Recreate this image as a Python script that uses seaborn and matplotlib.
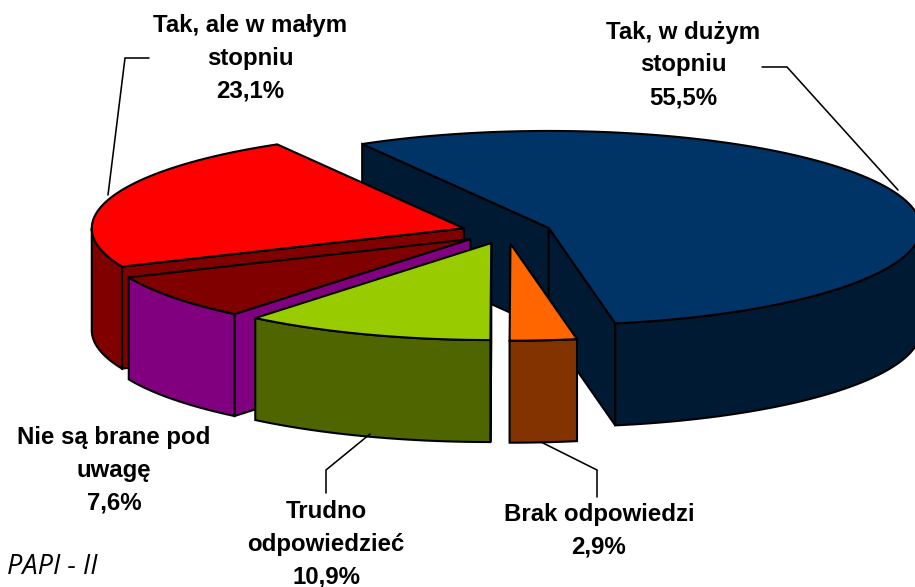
import numpy as np
import matplotlib
matplotlib.use("Agg")
import matplotlib.pyplot as plt
import seaborn as sns

# slices, clockwise from the blue one
labels = ["Tak, w dużym\nstopniu", "Brak odpowiedzi", "Trudno\nodpowiedzieć",
          "Nie są brane pod\nuwagę", "Tak, ale w małym\nstopniu"]
values = [55.5, 2.9, 10.9, 7.6, 23.1]

top_colors = ["#003366", "#ff6600", "#99cc00", "#800000", "#ff0000"]
side_colors = ["#001a33", "#833300", "#4f6600", "#800080", "#800000"]

label_pos = [(683, 65), (599, 531), (326, 544), (114, 470), (250, 58)]
leaders = [
    [(762, 67), (787, 67), (898, 190)],
    [(597, 497), (597, 470), (541, 442)],
    [(326, 493), (326, 470), (370, 434)],
    None,
    [(149, 58), (125, 58), (108, 195)],
]

# pie geometry in pixels
cx, cy = 506.5, 232
rx, ry = 372, 97
depth = 102
explode = 0.121
start_angle = -30.1
draw_order = [0, 4, 3, 2, 1]

sns.set_theme(style="white")
plt.rcParams["font.family"] = ["Liberation Sans", "DejaVu Sans"]

fig = plt.figure(figsize=(9.15, 5.87), dpi=100)
ax = fig.add_axes([0, 0, 1, 1])
ax.set_xlim(0, 915)
ax.set_ylim(587, 0)
ax.axis("off")

edges = start_angle + np.cumsum([0] + values) * 3.6


def rim(vx, vy, deg):
    t = np.radians(deg)
    return vx + rx * np.sin(t), vy - ry * np.cos(t)


def face(xs, ys, color):
    ax.fill(xs, ys, facecolor=color, edgecolor="black", linewidth=1.5, joinstyle="miter")


def radial(vx, vy, deg, color):
    x, y = rim(vx, vy, deg)
    face([vx, x, x, vx], [vy, y, y + depth, vy + depth], color)


for i in draw_order:
    a0, a1 = edges[i], edges[i + 1]
    mid = np.radians((a0 + a1) / 2)
    vx = cx + explode * rx * np.sin(mid)
    vy = cy - explode * ry * np.cos(mid)

    # cut faces, only the ones turned to the viewer
    if np.sin(np.radians(a0)) < 0:
        radial(vx, vy, a0, side_colors[i])
    if np.sin(np.radians(a1)) > 0:
        radial(vx, vy, a1, side_colors[i])

    # outer wall, front half of the ellipse only
    lo, hi = max(a0, 90), min(a1, 270)
    if hi > lo:
        x, y = rim(vx, vy, np.linspace(lo, hi, 120))
        face(np.r_[x, x[::-1]], np.r_[y, y[::-1] + depth], side_colors[i])

    # top
    x, y = rim(vx, vy, np.linspace(a0, a1, 240))
    face(np.r_[vx, x], np.r_[vy, y], top_colors[i])

for i, pts in enumerate(leaders):
    if pts is not None:
        ax.plot(*zip(*pts), color="black", linewidth=1.15, solid_joinstyle="miter")
    txt = labels[i] + "\n" + f"{values[i]:.1f}%".replace(".", ",")
    ax.text(*label_pos[i], txt, ha="center", va="center", fontsize=17.3,
            fontweight="bold", color="black", linespacing=1.53)

ax.text(7, 567, "PAPI - II", ha="left", va="center", fontsize=19.5, style="italic",
        family="Open Sans", color="black")

sns.despine(fig=fig, left=True, bottom=True)
fig.savefig("out.png", dpi=100)
